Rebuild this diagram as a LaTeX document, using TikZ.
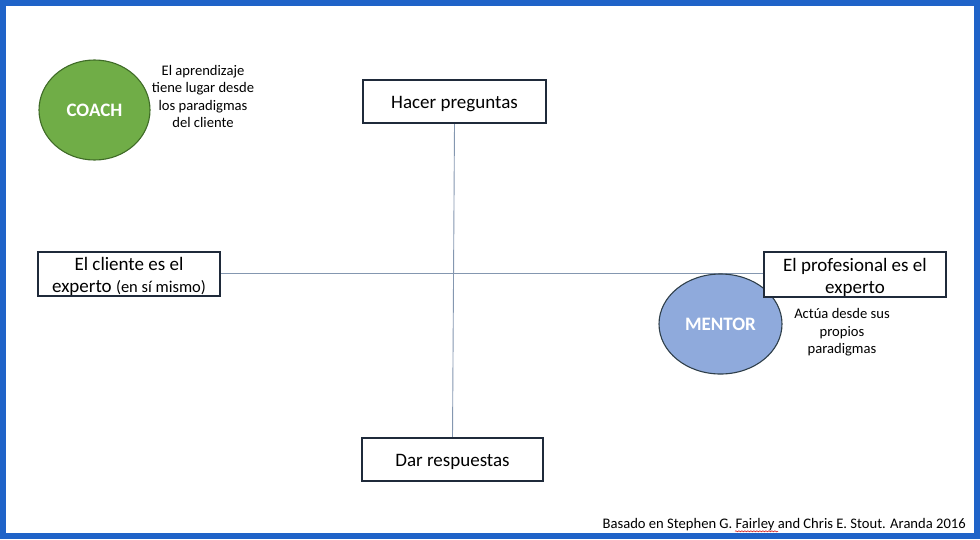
\documentclass[tikz,border=0pt]{standalone}
\usepackage{fontspec}
\setmainfont{Carlito}
\usetikzlibrary{backgrounds,decorations.pathmorphing,shapes.geometric}
\definecolor{frameblue}{HTML}{1F63C8}
\definecolor{axisline}{HTML}{8497B0}
\definecolor{coachfill}{HTML}{70AD47}
\definecolor{coachdraw}{HTML}{3F6B27}
\definecolor{mentorfill}{HTML}{8FAADC}
\definecolor{mentordraw}{HTML}{2F3F4A}
\definecolor{boxdraw}{HTML}{1F2A3A}
\tikzset{
  labelbox/.style={draw=boxdraw, line width=1.1pt, fill=white, rectangle, inner sep=0pt},
  boxtext/.style={align=center, inner sep=0pt, yshift=-2.5pt, font=\fontsize{19}{22}\selectfont},
  roleellipse/.style={ellipse, line width=1.1pt, inner sep=0pt, text=white,
    font=\fontsize{19}{22}\selectfont\bfseries},
  note/.style={align=center, inner sep=0pt, font=\fontsize{14.6}{17.6}\selectfont},
  axis/.style={draw=axisline, line width=0.9pt},
}
\begin{document}
\begin{tikzpicture}[x=1pt,y=-1pt]
\useasboundingbox (0,0) rectangle (980,539);
\draw[frameblue, line width=5.6pt] (2.8,2.8) rectangle (977.2,536.2);

% role ellipses
\node[roleellipse, fill=coachfill, draw=coachdraw, minimum width=111pt, minimum height=100pt] (coach) at (94.5,110) {\raisebox{-1pt}{COACH}};
\node[roleellipse, fill=mentorfill, draw=mentordraw, minimum width=123pt, minimum height=100pt] (mentor) at (720.5,324) {\raisebox{-1pt}{MENTOR}};

% boxes
\node[labelbox, minimum width=183pt, minimum height=43pt, label={[boxtext]center:Hacer preguntas}] (hacer) at (454.5,101.5) {};
\node[labelbox, minimum width=181pt, minimum height=43pt, label={[boxtext]center:Dar respuestas}] (dar) at (452.5,459.5) {};
\node[labelbox, minimum width=182pt, minimum height=44pt, label={[boxtext]center:{El cliente es el\\experto {\fontsize{16.5}{22}\selectfont(en sí mismo)}}}] (cliente) at (129,274) {};
\node[labelbox, minimum width=182pt, minimum height=45pt, label={[boxtext]center:{El profesional es el\\experto}}] (prof) at (855,274.5) {};

% notes
\node[note] (coachnote) at (203,96.5) {El aprendizaje\\tiene lugar desde\\los paradigmas\\del cliente};
\node[note] (mentornote) at (842,332.5) {Actúa desde sus\\propios\\paradigmas};

% footer
\node[inner sep=0pt, anchor=base east, font=\fontsize{14.6}{16}\selectfont] (footer) at (966,528.5) {Basado en Stephen G. Fairley and Chris E. Stout. Aranda 2016};
\draw[red!80!black, line width=0.5pt, decorate, decoration={snake, amplitude=0.6pt, segment length=3pt}] (735,531.3) -- (778,531.3);

% axes
\begin{scope}[on background layer]
\draw[axis] (hacer.south) -- (dar.north);
\draw[axis] (cliente.east |- 0,273) -- (prof.west |- 0,273);
\end{scope}
\end{tikzpicture}
\end{document}
